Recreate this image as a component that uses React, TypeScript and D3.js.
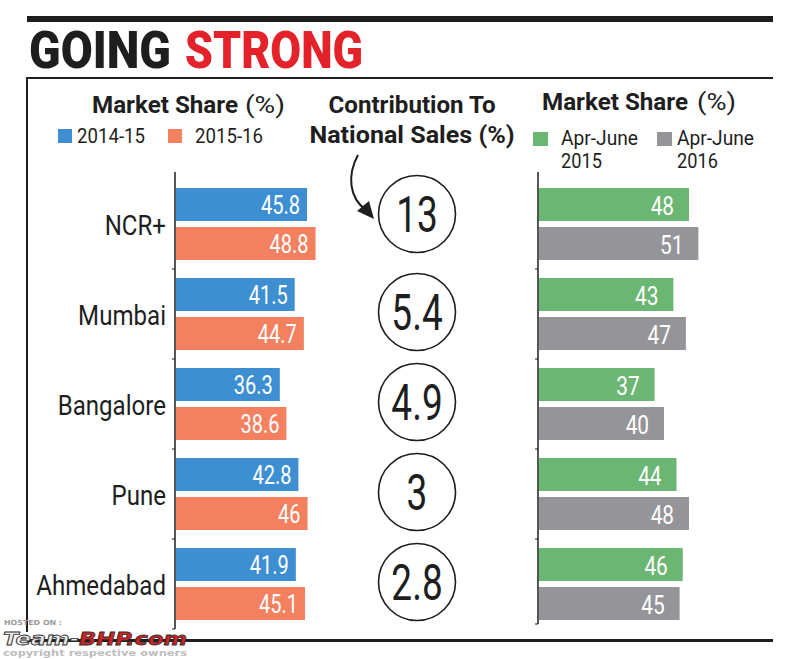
import React from 'react';
import * as d3 from 'd3';

// ---------- data ----------
const cities = ['NCR+', 'Mumbai', 'Bangalore', 'Pune', 'Ahmedabad'];
const share201415 = [45.8, 41.5, 36.3, 42.8, 41.9];
const share201516 = [48.8, 44.7, 38.6, 46, 45.1];
const contribution = [13, 5.4, 4.9, 3, 2.8];
const shareAprJun2015 = [48, 43, 37, 44, 46];
const shareAprJun2016 = [51, 47, 40, 48, 45];
const leftLegend = ['2014-15', '2015-16'];
const rightLegend = [['Apr-June', '2015'], ['Apr-June', '2016']];

// ---------- style ----------
const W = 800, H = 659;
const BLUE = '#3d8fd2', ORANGE = '#f3815f', GREEN = '#6cb673', GRAY = '#959599';
const INK = '#1e1e1e', RED = '#e3222a';
const FONT = "Roboto, 'Liberation Sans', 'DejaVu Sans', sans-serif";

function CT({ x, y, sx = 0.85, anchor = 'start', size, weight = 400, fill = INK, children, len }: any) {
  return (
    <text
      transform={`translate(${x},${y}) scale(${sx},1)`}
      textAnchor={anchor}
      fontSize={size}
      fontWeight={weight}
      fill={fill}
      fontFamily={FONT}
      {...(len ? { textLength: len / sx, lengthAdjust: 'spacingAndGlyphs' } : {})}
    >
      {children}
    </text>
  );
}

export default function App() {
  const yBand = d3.scaleBand<string>().domain(cities).range([183, 633]);
  const ySub = d3.scaleBand<string>().domain(['a', 'b']).range([5, 77]).paddingInner(6 / 39);
  const xL = d3.scaleLinear().domain([0, 100]).range([176, 462]);
  const xR = d3.scaleLinear().domain([0, 100]).range([539, 851.5]);
  const bw = ySub.bandwidth();
  const center = (c: string) => (yBand(c) as number) + 41;

  const leftSets = [share201415, share201516];
  const rightSets = [shareAprJun2015, shareAprJun2016];
  const leftColors = [BLUE, ORANGE];
  const rightColors = [GREEN, GRAY];

  // tick positions between groups
  const between = cities.slice(1).map((c) => (yBand(c) as number) - 4);

  return (
    <svg width={W} height={H} style={{ position: 'absolute', left: 0, top: 0, background: '#fff' }}>
      <rect x={0} y={0} width={W} height={H} fill="#fff" />
      {/* frame */}
      <rect x={27} y={16} width={746} height={6} fill={INK} />
      <line x1={27} x2={773} y1={78} y2={78} stroke={INK} strokeWidth={2} />
      <line x1={27} x2={27} y1={77} y2={632} stroke={INK} strokeWidth={2} />
      <rect x={27} y={639} width={746} height={3} fill={INK} />

      {/* title */}
      <text x={29} y={68} fontFamily={FONT} fontWeight={900} fontSize={52} fill={INK}
        textLength={142} lengthAdjust="spacingAndGlyphs">GOING</text>
      <text x={185} y={68} fontFamily={FONT} fontWeight={900} fontSize={52} fill={RED}
        textLength={178} lengthAdjust="spacingAndGlyphs">STRONG</text>

      {/* left header */}
      <CT x={92} y={113} size={23} weight={700} len={146}>Market Share</CT>
      <CT x={245} y={113} size={23} weight={400} len={40}>(%)</CT>
      {leftLegend.map((l, i) => (
        <g key={l}>
          <rect x={[58, 168][i]} y={129} width={14} height={14} fill={leftColors[i]} />
          <CT x={[77, 195][i]} y={143} size={21} len={68}>{l}</CT>
        </g>
      ))}

      {/* middle header */}
      <CT x={412} y={113} size={23} weight={700} anchor="middle" len={167}>Contribution To</CT>
      <CT x={412} y={143} size={23} weight={700} anchor="middle" len={205}>National Sales (%)</CT>

      {/* right header */}
      <CT x={542} y={110} size={23} weight={700} len={146}>Market Share</CT>
      <CT x={697} y={110} size={23} weight={400} len={39}>(%)</CT>
      {rightLegend.map((l, i) => (
        <g key={i}>
          <rect x={[533, 657][i]} y={132} width={15} height={14} fill={rightColors[i]} />
          <CT x={[561, 677][i]} y={145} size={21} len={77}>{l[0]}</CT>
          <CT x={[561, 677][i]} y={168} size={21} len={41}>{l[1]}</CT>
        </g>
      ))}

      {/* axes */}
      <line x1={175} x2={175} y1={172} y2={629} stroke={INK} strokeWidth={1.5} />
      <line x1={538} x2={538} y1={172} y2={624} stroke={INK} strokeWidth={1.5} />
      {between.map((y, i) => (
        <g key={i}>
          <line x1={172} x2={175} y1={y} y2={y} stroke={INK} strokeWidth={1} />
          <line x1={535} x2={538} y1={y} y2={y} stroke={INK} strokeWidth={1} />
        </g>
      ))}
      <line x1={172} x2={175} y1={629} y2={629} stroke={INK} strokeWidth={1} />
      <line x1={535} x2={538} y1={624} y2={624} stroke={INK} strokeWidth={1} />

      {/* bars */}
      {cities.map((c, ci) => (
        <g key={c}>
          <CT x={166} y={center(c) + 11} size={28} sx={0.86} anchor="end">{c}</CT>
          {leftSets.map((set, si) => {
            const y = (yBand(c) as number) + (ySub(['a', 'b'][si]) as number);
            const v = set[ci];
            return (
              <g key={si}>
                <rect x={xL(0)} y={y} width={xL(v) - xL(0)} height={bw} fill={leftColors[si]} />
                <CT x={xL(v) - 7} y={y + 26} size={25} weight={400} sx={0.8} anchor="end" fill="#fff">{String(v)}</CT>
              </g>
            );
          })}
          {rightSets.map((set, si) => {
            const y = (yBand(c) as number) + (ySub(['a', 'b'][si]) as number);
            const v = set[ci];
            return (
              <g key={si}>
                <rect x={xR(0)} y={y} width={xR(v) - xR(0)} height={bw} fill={rightColors[si]} />
                <CT x={xR(v) - 15} y={y + 26.5} size={26} weight={400} sx={0.8} anchor="end" fill="#fff">{String(v)}</CT>
              </g>
            );
          })}
          {/* contribution circle */}
          {(() => {
            const cy = center(c) + (ci === 0 ? -10 : -2);
            return (
              <g>
                <circle cx={417} cy={cy} r={38.5} fill="#fff" stroke={INK} strokeWidth={1.6} />
                <CT x={417} y={cy + 18} size={50} weight={400} sx={0.74} anchor="middle">{String(contribution[ci])}</CT>
              </g>
            );
          })()}
        </g>
      ))}

      {/* arrow */}
      <path d="M358,155 C347,175 349,198 366,210" fill="none" stroke={INK} strokeWidth={2} />
      <path d="M374,219 L357,211 L369,201 Z" fill={INK} />

      {/* watermark */}
      <text x={4} y={625} fontFamily="'DejaVu Sans', sans-serif" fontSize={7} fontWeight={700} fill="#9a9a9a"
        textLength={58} lengthAdjust="spacingAndGlyphs">HOSTED ON :</text>
      <text x={3} y={645} fontFamily="'DejaVu Sans', sans-serif" fontSize={17} fontWeight={700} fontStyle="italic"
        textLength={184} lengthAdjust="spacingAndGlyphs" stroke="#333" strokeWidth={0.8}>
        <tspan fill="#e8e8e8">Team-</tspan>
        <tspan fill="#d81e1e">BHP.com</tspan>
      </text>
      <text x={3} y={656} fontFamily="'DejaVu Sans', sans-serif" fontSize={9} fontWeight={700} fill="#bdbdbd"
        textLength={184} lengthAdjust="spacingAndGlyphs">copyright respective owners</text>
    </svg>
  );
}
